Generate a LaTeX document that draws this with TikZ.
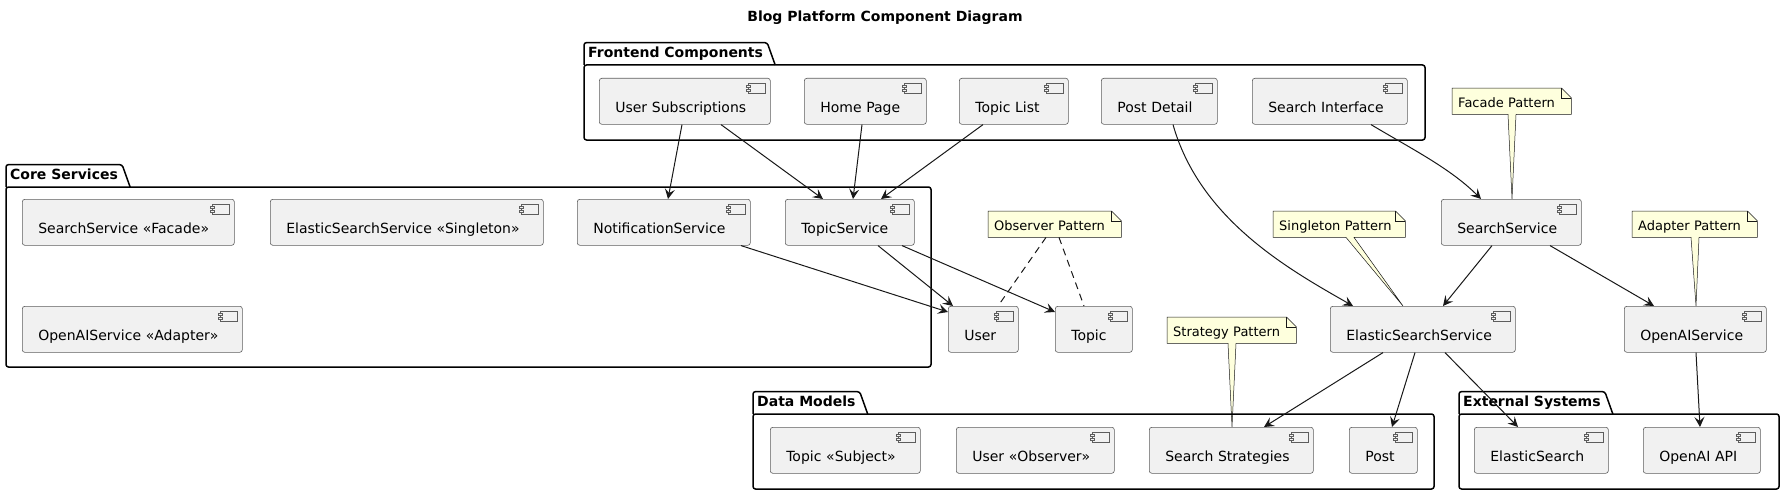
\documentclass[tikz,border=0pt]{standalone}
\usepackage{fontspec}
\setmainfont{DejaVu Sans}
\usetikzlibrary{arrows.meta}
\pgfdeclarelayer{back}
\pgfsetlayers{back,main}
\definecolor{lineGray}{HTML}{181818}
\definecolor{boxGray}{HTML}{F1F1F1}
\definecolor{noteYellow}{HTML}{FEFFDD}
\def\compbox(#1)(#2,#3)#4#5{\node[comp, text width=#4pt, anchor=north west] (#1) at (#2,#3) {#5};}
\def\pkgbox(#1)(#2,#3)(#4,#5)#6{%
	\node[pkgtab, anchor=south west] (#1) at (#2,#3) {#6};
	\draw[pkgline] (#1.south west) -- (#1.north west) -- (#1.north east) -- ([xshift=8pt]#1.south east);
	\draw[pkgline] (#2,#3) rectangle (#4,#5);}
\def\noteframe(#1)#2(#3){%
	\begin{pgfonlayer}{back}
	\draw[noteline] (#1.north west) -- ([xshift=-10pt]#1.north east) -- ([yshift=-10pt]#1.north east) -- (#1.south east) -- ([xshift=#2+4pt]#1.south west) -- (#3) -- ([xshift=#2-4pt]#1.south west) -- (#1.south west) -- cycle;
	\end{pgfonlayer}
	\draw[noteline, fill=none] ([xshift=-10pt]#1.north east) |- ([yshift=-10pt]#1.north east);}

\begin{document}
\begin{tikzpicture}[x=1pt, y=-1pt,
		comp/.style={draw=lineGray!70, fill=boxGray, line width=0.6pt, rounded corners=2.5pt, inner xsep=16pt, inner ysep=0pt, text height=34pt, text depth=12pt, align=left, font=\fontsize{14}{17}\selectfont,
			path picture={
				\draw[sharp corners, draw=lineGray!70, fill=boxGray, line width=0.6pt] ([xshift=-22pt, yshift=-5pt]path picture bounding box.north east) rectangle ++(17pt,-10pt);
				\draw[sharp corners, draw=lineGray!70, fill=boxGray, line width=0.6pt] ([xshift=-24pt, yshift=-7pt]path picture bounding box.north east) rectangle ++(4pt,-2pt);
				\draw[sharp corners, draw=lineGray!70, fill=boxGray, line width=0.6pt] ([xshift=-24pt, yshift=-11pt]path picture bounding box.north east) rectangle ++(4pt,-2pt);}},
		pkgtab/.style={inner xsep=4pt, inner ysep=0pt, text height=15pt, text depth=7pt, font=\bfseries\fontsize{14}{17}\selectfont},
		pkgline/.style={draw=black, line width=1.5pt, rounded corners=2.5pt},
		notetext/.style={inner xsep=6pt, inner ysep=0pt, text height=19pt, text depth=7pt, align=left, font=\fontsize{13}{16}\selectfont},
		noteline/.style={draw=lineGray, fill=noteYellow, line width=0.5pt},
		flow/.style={draw=lineGray, line width=1pt, -{Stealth[length=10pt, width=10pt, inset=4pt]}},
		observe/.style={draw=lineGray, line width=1pt, dash pattern=on 7pt off 5pt}]
		%%%%% START %%%%%
		\useasboundingbox (0,0) rectangle (1783,495);
		
		\node[font=\bfseries\fontsize{14}{17}\selectfont] (diagTitle) at (885,18) {Blog Platform Component Diagram};
		
		% packages
		\pkgbox(feTitle)(584,65)(1425,140){Frontend Components}
		\pkgbox(coreTitle)(6,187)(931,367){Core Services}
		\pkgbox(dataTitle)(753,414)(1434,489){Data Models}
		\pkgbox(extTitle)(1459,414)(1779,489){External Systems}
		
		% frontend
		\compbox(userSubs)(599,78){139}{User Subscriptions}
		\compbox(homePage)(804,78){90}{Home Page}
		\compbox(topicList)(959,78){77}{Topic List}
		\compbox(postDetail)(1101,78){84}{Post Detail}
		\compbox(searchUI)(1252,78){123}{Search Interface}
		
		% core services
		\compbox(searchFacade)(22,199){180}{SearchService «Facade»}
		\compbox(essSingleton)(270,199){241}{ElasticSearchService «Singleton»}
		\compbox(notifySvc)(577,199){141}{NotificationService}
		\compbox(topicSvc)(785,199){97}{TopicService}
		\compbox(openaiAdapter)(22,306){188}{OpenAIService «Adapter»}
		
		% loose components
		\compbox(userCmp)(948,306){38}{User}
		\compbox(topicCmp)(1055,306){45}{Topic}
		\compbox(searchSvc)(1441,199){108}{SearchService}
		\compbox(essSvc)(1330,306){153}{ElasticSearchService}
		\compbox(openaiSvc)(1624,306){110}{OpenAIService}
		
		% data models
		\compbox(topicSubject)(770,427){118}{Topic «Subject»}
		\compbox(userObserver)(956,427){126}{User «Observer»}
		\compbox(searchStrat)(1149,427){132}{Search Strategies}
		\compbox(postCmp)(1349,427){36}{Post}
		
		% external systems
		\compbox(esExt)(1474,427){102}{ElasticSearch}
		\compbox(openaiApi)(1643,427){85}{OpenAI API}
		
		% notes
		\node[notetext, text width=107pt, anchor=north west] (facadeNote) at (1452,88) {Facade Pattern};
		\noteframe(facadeNote){60pt}([xshift=71pt]searchSvc.north west)
		\node[notetext, text width=120pt, anchor=north west] (singletonNote) at (1273,211) {Singleton Pattern};
		\noteframe(singletonNote){77pt}([xshift=73pt]essSvc.north west)
		\node[notetext, text width=113pt, anchor=north west] (adapterNote) at (1632,211) {Adapter Pattern};
		\noteframe(adapterNote){63pt}([xshift=72pt]openaiSvc.north west)
		\node[notetext, text width=117pt, anchor=north west] (strategyNote) at (1167,317) {Strategy Pattern};
		\noteframe(strategyNote){65pt}([xshift=83pt]searchStrat.north west)
		\node[notetext, text width=121pt, anchor=north west] (observerNote) at (988,211) {Observer Pattern};
		\begin{pgfonlayer}{back}
		\draw[noteline] (observerNote.north west) -- ([xshift=-10pt]observerNote.north east) -- ([yshift=-10pt]observerNote.north east) -- (observerNote.south east) -- (observerNote.south west) -- cycle;
		\end{pgfonlayer}
		\draw[noteline, fill=none] ([xshift=-10pt]observerNote.north east) |- ([yshift=-10pt]observerNote.north east);
		\draw[observe] ([xshift=58pt]observerNote.south west) -- ([xshift=50pt]userCmp.north west);
		\draw[observe] ([xshift=71pt]observerNote.south west) -- ([xshift=29pt]topicCmp.north west);
		
		% dependencies
		\draw[flow] ([xshift=83pt]userSubs.south west) -- ([xshift=91pt]notifySvc.north west);
		\draw[flow] ([xshift=122pt]userSubs.south west) -- ([xshift=38pt]topicSvc.north west);
		\draw[flow] ([xshift=58pt]homePage.south west) -- ([xshift=68pt]topicSvc.north west);
		\draw[flow] ([xshift=24pt]topicList.south west) -- ([xshift=96pt]topicSvc.north west);
		\draw[flow] ([xshift=72pt]postDetail.south west) .. controls (1200,220) and (1290,270) .. ([xshift=23pt]essSvc.north west);
		\draw[flow] ([xshift=119pt]searchUI.south west) .. controls (1410,148) and (1450,168) .. ([xshift=40pt]searchSvc.north west);
		\draw[flow] ([xshift=51pt]searchSvc.south west) -- ([xshift=113pt]essSvc.north west);
		\draw[flow] ([xshift=109pt]searchSvc.south west) -- ([xshift=30pt]openaiSvc.north west);
		\draw[flow] ([xshift=164pt]notifySvc.south west) -- ([yshift=-6pt]userCmp.north west);
		\draw[flow] ([xshift=93pt]topicSvc.south west) -- ([xshift=5pt]userCmp.north west);
		\draw[flow] ([xshift=117pt]topicSvc.south west) -- ([yshift=-6pt]topicCmp.north west);
		\draw[flow] ([xshift=53pt]essSvc.south west) -- ([xshift=115pt]searchStrat.north west);
		\draw[flow] ([xshift=85pt]essSvc.south west) -- ([xshift=43pt]postCmp.north west);
		\draw[flow] ([xshift=115pt]essSvc.south west) -- ([xshift=44pt]esExt.north west);
		\draw[flow] ([xshift=72pt]openaiSvc.south west) -- ([xshift=57pt]openaiApi.north west);
		
		%%%%% END %%%%%
\end{tikzpicture}
\end{document}
